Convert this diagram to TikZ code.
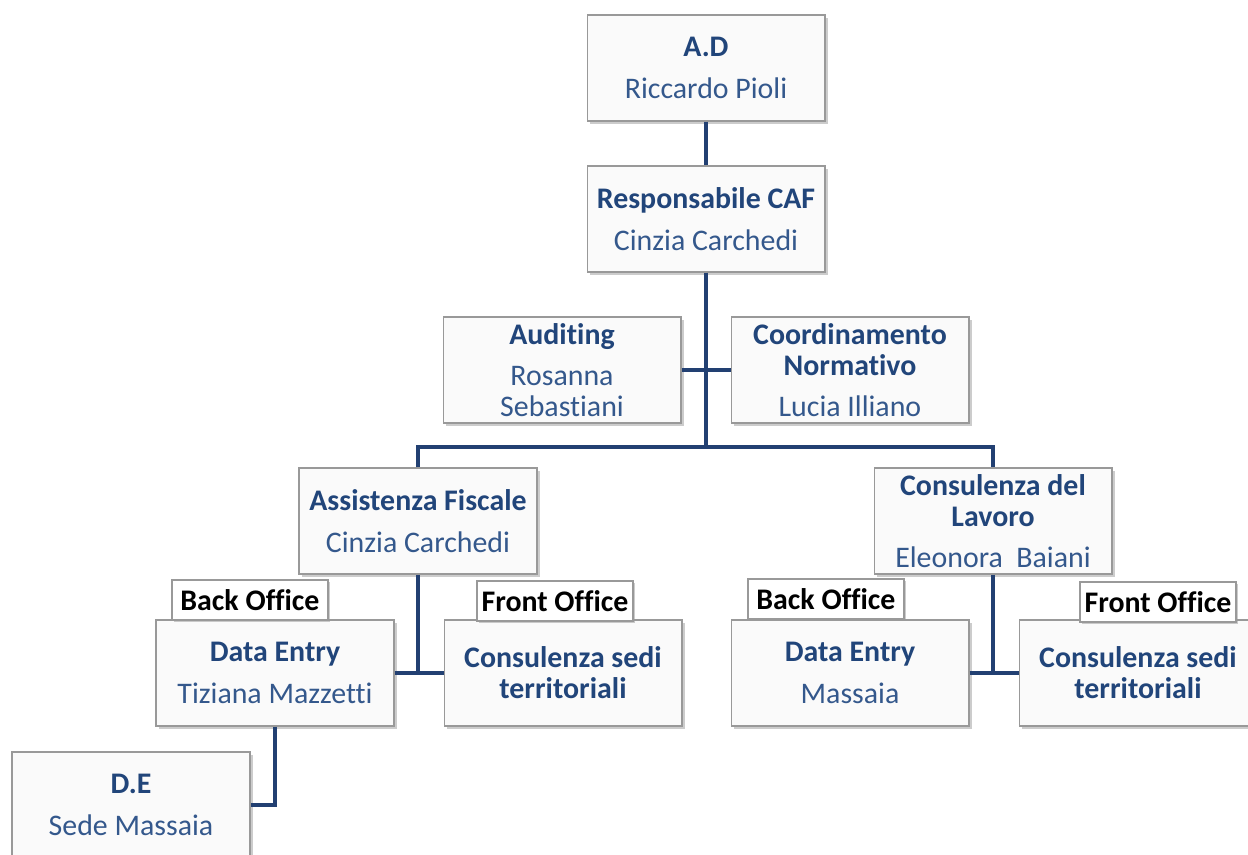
\documentclass[tikz,border=0pt]{standalone}
\usepackage{fontspec}
\setmainfont{Carlito}[Ligatures=NoCommon]
\usetikzlibrary{shadows}
\definecolor{hdblue}{RGB}{33,69,122}
\definecolor{nmblue}{RGB}{52,88,140}
\definecolor{lnblue}{RGB}{34,64,114}

\begin{document}
\begin{tikzpicture}[x=0.02cm,y=-0.02cm,
    box/.style={draw=black!40,line width=0.6pt,fill=black!2,
      minimum width=4.76cm,minimum height=2.12cm,inner sep=2pt,
      align=center,text=nmblue,font=\fontsize{17}{17.6}\selectfont,
      drop shadow={shadow xshift=1.5pt,shadow yshift=-1.5pt,fill=black!40,opacity=0.5}},
    tag/.style={draw=black!40,line width=0.6pt,fill=white,
      minimum width=3.12cm,minimum height=0.8cm,inner sep=1pt,
      font=\fontsize{17}{17.6}\selectfont\bfseries,
      drop shadow={shadow xshift=1pt,shadow yshift=-1pt,fill=black!40,opacity=0.5}},
    link/.style={draw=lnblue,line width=2.5pt}]
    \useasboundingbox (0,0) rectangle (1248,855);

    \node[box] (ad)     at (706,68)  {\textcolor{hdblue}{\textbf{A.D}}\\[6pt] Riccardo Pioli};
    \node[box] (caf)    at (706,219) {\textcolor{hdblue}{\textbf{Responsabile CAF}}\\[6pt] Cinzia Carchedi};
    \node[box] (aud)    at (562,370) {\textcolor{hdblue}{\textbf{Auditing}}\\[6pt] Rosanna\\ Sebastiani};
    \node[box] (coord)  at (850,370) {\textcolor{hdblue}{\textbf{Coordinamento}}\\ \textcolor{hdblue}{\textbf{Normativo}}\\[6pt] Lucia Illiano};
    \node[box] (assist) at (418,521) {\textcolor{hdblue}{\textbf{Assistenza Fiscale}}\\[6pt] Cinzia Carchedi};
    \node[box] (lavoro) at (993,521) {\textcolor{hdblue}{\textbf{Consulenza del}}\\ \textcolor{hdblue}{\textbf{Lavoro}}\\[6pt] Eleonora\ \ Baiani};
    \node[box] (entryA) at (275,673) {\textcolor{hdblue}{\textbf{Data Entry}}\\[6pt] Tiziana Mazzetti};
    \node[box] (sediA)  at (563,673) {\textcolor{hdblue}{\textbf{Consulenza sedi}}\\ \textcolor{hdblue}{\textbf{territoriali}}};
    \node[box] (entryB) at (850,673) {\textcolor{hdblue}{\textbf{Data Entry}}\\[6pt] Massaia};
    \node[box] (sediB)  at (1138,673) {\textcolor{hdblue}{\textbf{Consulenza sedi}}\\ \textcolor{hdblue}{\textbf{territoriali}}};
    \node[box] (de)     at (131,805) {\textcolor{hdblue}{\textbf{D.E}}\\[6pt] Sede Massaia};

    \node[tag] (backA)  at (250,600)  {Back Office};
    \node[tag] (frontA) at (555,601)  {Front Office};
    \node[tag] (backB)  at (826,599)  {Back Office};
    \node[tag] (frontB) at (1158,602) {Front Office};

    \coordinate (bar) at (706,447);
    \draw[link] (ad) -- (caf);
    \draw[link] (caf) -- (bar);
    \draw[link] (assist.north) |- (bar) -| (lavoro.north);
    \draw[link] (aud) -- (coord);
    \draw[link] (assist) |- (entryA);
    \draw[link] (entryA) -- (sediA);
    \draw[link] (lavoro) |- (entryB);
    \draw[link] (entryB) -- (sediB);
    \draw[link] (entryA) |- (de);
  \end{tikzpicture}
\end{document}
